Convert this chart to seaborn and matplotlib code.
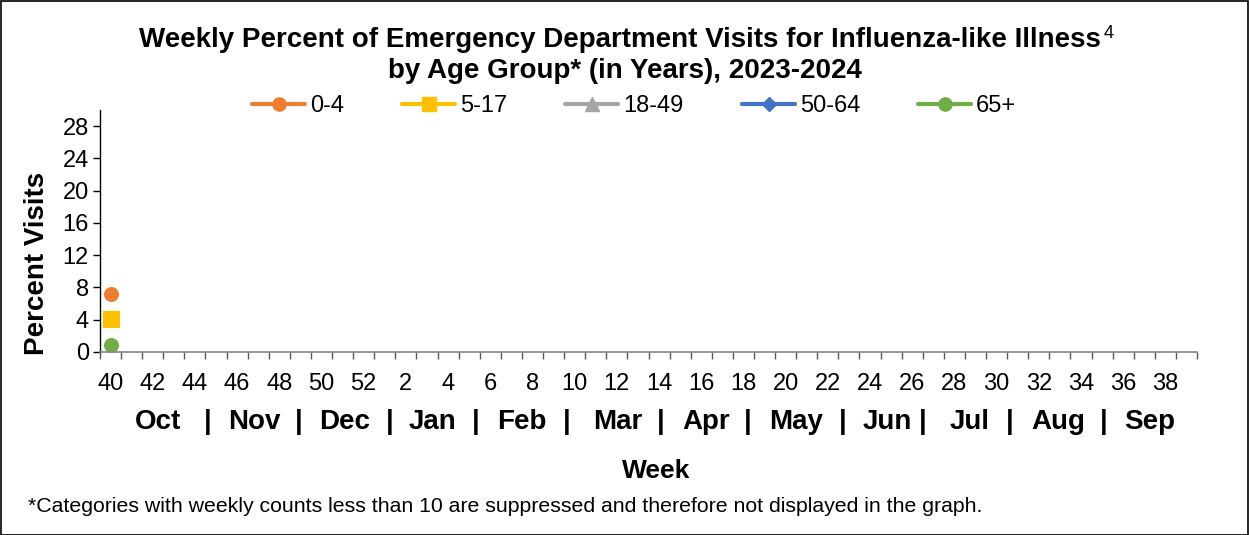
import numpy as np
import pandas as pd
import matplotlib
matplotlib.use("Agg")
import matplotlib.pyplot as plt
from matplotlib.lines import Line2D
from matplotlib.patches import Rectangle
import seaborn as sns

weeks = list(range(40, 53)) + list(range(1, 40))
tick_labels = [str(w) for w in weeks[::2]]
series_names = ["0-4", "5-17", "18-49", "50-64", "65+"]
vals_0_4 = [7.2] + [np.nan] * 51
vals_5_17 = [4.1] + [np.nan] * 51
vals_18_49 = [np.nan] * 52
vals_50_64 = [np.nan] * 52
vals_65 = [0.9] + [np.nan] * 51
months = ["Oct", "|", "Nov", "|", "Dec", "|", "Jan", "|", "Feb", "|", "Mar", "|",
          "Apr", "|", "May", "|", "Jun", "|", "Jul", "|", "Aug", "|", "Sep"]
month_px = [158, 208, 254, 299, 345, 390, 433, 476, 522, 567, 618, 661,
            706, 748, 796, 843, 887, 923, 970, 1010, 1058, 1104, 1150]
legend_px = [252, 402, 565, 742, 918]

colors = ["#ED7D31", "#FFC000", "#A5A5A5", "#4472C4", "#70AD47"]
markers = ["o", "s", "^", "D", "o"]
msizes = [10, 11, 10, 8, 10]
all_vals = [vals_0_4, vals_5_17, vals_18_49, vals_50_64, vals_65]

sns.set_theme(style="white")
plt.rcParams["font.family"] = ["Liberation Sans", "DejaVu Sans"]
plt.rcParams["text.color"] = "black"
plt.rcParams["axes.labelcolor"] = "black"
plt.rcParams["xtick.color"] = "black"
plt.rcParams["ytick.color"] = "black"

W, H = 1249, 535
fig = plt.figure(figsize=(W / 100, H / 100), dpi=100)
ax = fig.add_axes([100 / W, 1 - 352 / H, (1197 - 100) / W, (352 - 110) / H])

idx = np.arange(len(weeks))
for name, vals, c, m, ms in zip(series_names, all_vals, colors, markers, msizes):
    df = pd.DataFrame({"i": idx, "v": vals}).dropna()
    if len(df):
        sns.lineplot(data=df, x="i", y="v", ax=ax, color=c, marker=m,
                     markersize=ms, markeredgecolor=c, linewidth=3, legend=False)

ax.set_xlim(-0.5, 51.5)
ax.set_ylim(0, 30)
ax.set_yticks(range(0, 29, 4))
ax.set_xticks(idx[::2])
ax.set_xticklabels(tick_labels)
ax.set_xticks(np.arange(-0.5, 52, 1), minor=True)
ax.tick_params(axis="x", which="major", length=0, labelsize=17, pad=15, labelcolor="black")
ax.tick_params(axis="x", which="minor", length=5, width=1, color="#595959", direction="out", bottom=True)
ax.tick_params(axis="y", length=5, width=1, color="black", direction="out", left=True, labelsize=17,
               pad=3, labelcolor="black")
ax.set_xlabel("")
ax.set_ylabel("")
fig.text(37 / W, 1 - 263 / H, "Percent Visits", rotation=90, ha="center", va="center",
         fontsize=20, fontweight="bold", color="black")
for s in ["top", "right"]:
    ax.spines[s].set_visible(False)
ax.spines["left"].set_color("black")
ax.spines["bottom"].set_color("#868686")
ax.spines["left"].set_linewidth(1)
ax.spines["bottom"].set_linewidth(1.2)
ax.grid(False)

fig.text(620 / W, 1 - 40 / H, "Weekly Percent of Emergency Department Visits for Influenza-like Illness",
         ha="center", va="center", fontsize=20, fontweight="bold", color="black")
fig.text(1104 / W, 1 - 34 / H, "4", ha="left", va="center", fontsize=13, color="black")
fig.text(625 / W, 1 - 71 / H, "by Age Group* (in Years), 2023-2024",
         ha="center", va="center", fontsize=20, fontweight="bold", color="black")

for name, c, m, ms, px in zip(series_names, colors, markers, msizes, legend_px):
    h = Line2D([0], [0], color=c, marker=m, markersize=ms * 0.95, linewidth=3, markeredgecolor=c)
    fig.legend([h], [name], loc="center left", bbox_to_anchor=(px / W, 1 - 106 / H),
               frameon=False, fontsize=17, handlelength=2.25, handletextpad=0.2,
               borderpad=0, borderaxespad=0, labelcolor="black")

for lab, px in zip(months, month_px):
    fig.text(px / W, 1 - 422 / H, lab, ha="center", va="center", fontsize=20, fontweight="bold", color="black")

fig.text(656 / W, 1 - 471 / H, "Week", ha="center", va="center", fontsize=19, fontweight="bold", color="black")
fig.text(28 / W, 1 - 507 / H, "*Categories with weekly counts less than 10 are suppressed and therefore not displayed in the graph.",
         ha="left", va="center", fontsize=15.3, color="black")

fig.add_artist(Rectangle((0.5 / W, 0.5 / H), (W - 1.5) / W, (H - 1.5) / H, transform=fig.transFigure,
                         fill=False, edgecolor="black", linewidth=1.2))

fig.savefig("out.png", dpi=100)
